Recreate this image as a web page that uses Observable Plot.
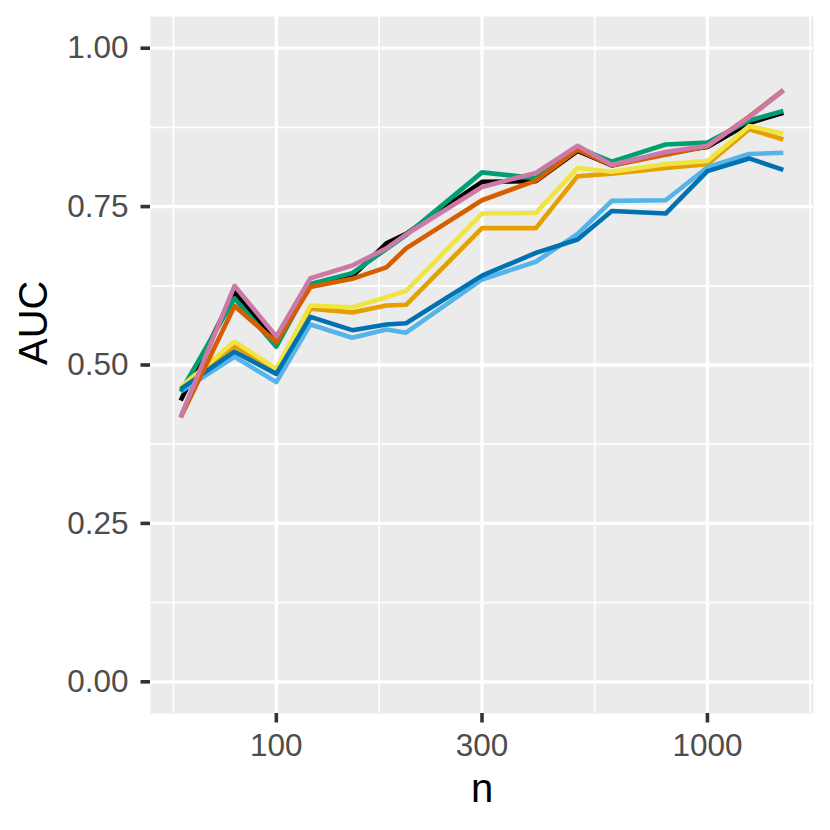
<!DOCTYPE html>
<html>
<head>
<meta charset="utf-8">
<script src="https://cdn.jsdelivr.net/npm/d3@7"></script>
<script src="https://cdn.jsdelivr.net/npm/@observablehq/plot@0.6"></script>
<style>
  html, body { margin: 0; padding: 0; background: #ffffff; }
  #chart svg { display: block; }
</style>
</head>
<body>
<div id="chart"></div>
<script>
// ---- data ----
const nValues = [60, 80, 100, 120, 150, 180, 200, 300, 400, 500, 600, 800, 1000, 1250, 1500];

const seriesNames = ["black", "orange", "skyblue", "green", "yellow", "blue", "vermillion", "pink"];
const seriesColors = ["#000000", "#E69F00", "#56B4E9", "#009E73", "#F0E442", "#0072B2", "#D55E00", "#CC79A7"];

const aucBlack      = [0.444, 0.615, 0.538, 0.626, 0.640, 0.692, 0.707, 0.789, 0.790, 0.838, 0.815, 0.835, 0.844, 0.882, 0.898];
const aucOrange     = [0.462, 0.530, 0.490, 0.589, 0.583, 0.594, 0.595, 0.716, 0.716, 0.798, 0.802, 0.811, 0.817, 0.872, 0.856];
const aucSkyblue    = [0.458, 0.513, 0.473, 0.564, 0.543, 0.556, 0.551, 0.635, 0.663, 0.707, 0.759, 0.760, 0.812, 0.833, 0.835];
const aucGreen      = [0.458, 0.605, 0.529, 0.628, 0.645, 0.683, 0.705, 0.804, 0.795, 0.843, 0.821, 0.848, 0.851, 0.886, 0.901];
const aucYellow     = [0.465, 0.537, 0.494, 0.594, 0.591, 0.607, 0.617, 0.739, 0.740, 0.811, 0.805, 0.817, 0.822, 0.877, 0.865];
const aucBlue       = [0.462, 0.521, 0.486, 0.576, 0.555, 0.564, 0.566, 0.641, 0.677, 0.698, 0.743, 0.739, 0.806, 0.826, 0.808];
const aucVermillion = [0.417, 0.593, 0.536, 0.623, 0.636, 0.654, 0.684, 0.760, 0.791, 0.840, 0.815, 0.832, 0.845, 0.892, 0.934];
const aucPink       = [0.418, 0.625, 0.545, 0.637, 0.657, 0.684, 0.706, 0.781, 0.803, 0.846, 0.816, 0.836, 0.846, 0.891, 0.933];

const xBreaks = [100, 300, 1000];
const xMinorBreaks = [57.735, 173.205, 547.723, 1732.05];
const yBreaks = [0, 0.25, 0.5, 0.75, 1];
const yMinorBreaks = [0.125, 0.375, 0.625, 0.875];
const xDomain = [51.07, 1762.2];
const yDomain = [-0.05, 1.05];

// ---- build long table ----
const seriesValues = [aucBlack, aucOrange, aucSkyblue, aucGreen, aucYellow, aucBlue, aucVermillion, aucPink];
const data = [];
seriesNames.forEach((name, i) => {
  nValues.forEach((n, j) => data.push({series: name, n, auc: seriesValues[i][j]}));
});

const tickFont = 31.5;
const titleFont = 40;
const chart = Plot.plot({
  width: 830,
  height: 830,
  marginLeft: 150,
  marginRight: 17,
  marginTop: 16,
  marginBottom: 117,
  style: {fontFamily: "'Liberation Sans', Arial, Helvetica, sans-serif", background: "#ffffff"},
  x: {type: "log", domain: xDomain},
  y: {domain: yDomain},
  color: {domain: seriesNames, range: seriesColors},
  marks: [
    Plot.frame({fill: "#EBEBEB", stroke: null}),
    Plot.ruleX(xMinorBreaks, {stroke: "#ffffff", strokeWidth: 1.7}),
    Plot.ruleY(yMinorBreaks, {stroke: "#ffffff", strokeWidth: 1.7}),
    Plot.ruleX(xBreaks, {stroke: "#ffffff", strokeWidth: 3.3}),
    Plot.ruleY(yBreaks, {stroke: "#ffffff", strokeWidth: 3.3}),
    Plot.line(data, {x: "n", y: "auc", z: "series", stroke: "series", strokeWidth: 4.6, strokeLinecap: "butt", strokeLinejoin: "round"}),
    // axis ticks
    Plot.axisX(xBreaks, {tickSize: 9.5, strokeWidth: 3.6, stroke: "#333333", tickFormat: () => "", label: null}),
    Plot.axisY(yBreaks, {tickSize: 9.5, strokeWidth: 3.6, stroke: "#333333", tickFormat: () => "", label: null}),
    // axis labels
    Plot.axisX(xBreaks, {tickSize: 0, tickPadding: 20, fill: "#4D4D4D", fontSize: tickFont, tickFormat: d => String(d), label: null}),
    Plot.axisY(yBreaks, {tickSize: 0, tickPadding: 22, fill: "#4D4D4D", fontSize: tickFont, tickFormat: d3.format(".2f"), label: null}),
    // axis titles
    Plot.text(["n"], {frameAnchor: "bottom", dy: 76, fontSize: titleFont, fill: "#000000", lineAnchor: "middle"}),
    Plot.text(["AUC"], {frameAnchor: "left", dx: -116, rotate: -90, fontSize: titleFont, fill: "#000000", lineAnchor: "middle"})
  ]
});
document.getElementById("chart").appendChild(chart);
</script>
</body>
</html>
